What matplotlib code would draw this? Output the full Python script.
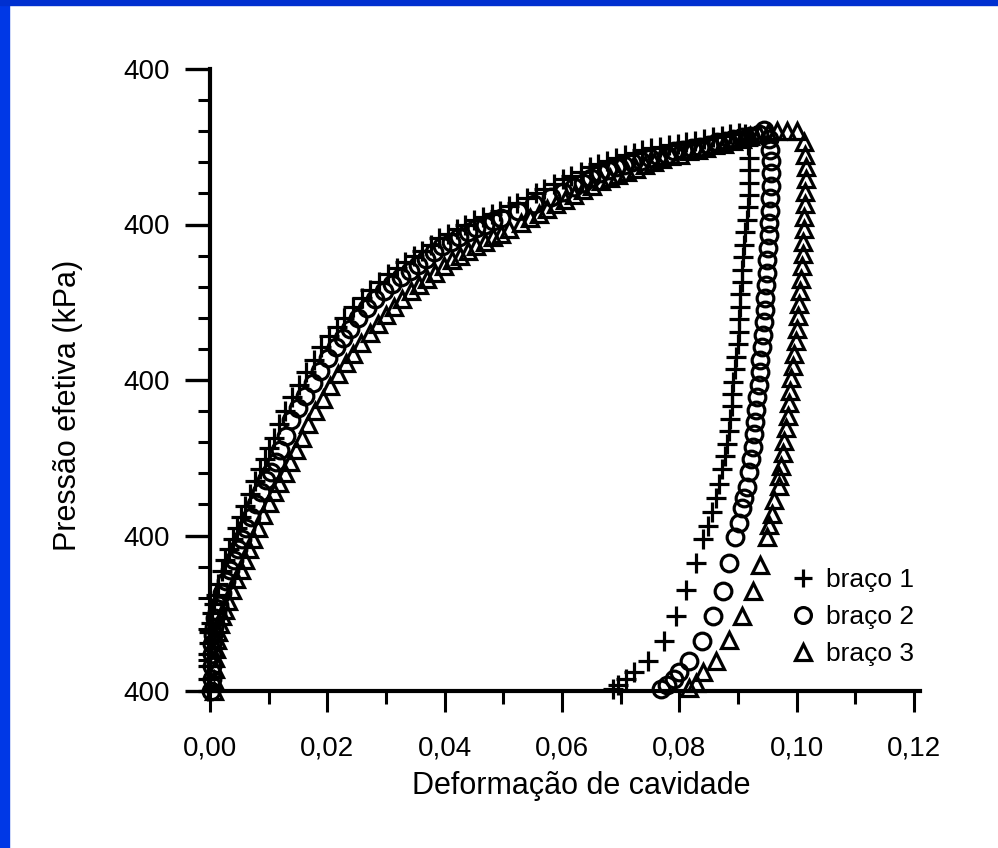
import matplotlib
matplotlib.use("Agg")
import matplotlib.pyplot as plt
from matplotlib.patches import Rectangle
from matplotlib.ticker import MultipleLocator, FixedLocator, FixedFormatter

plt.rcParams['font.family'] = ['Liberation Sans', 'DejaVu Sans']

# braço 1 (+): loading then unloading
b1_x = [-0.0004, -0.0004, -0.0003, -0.0003, -0.0002, -0.0001, 0.0001, 0.0003, 0.0006, 0.0010,
        0.0014, 0.0020, 0.0026, 0.0032, 0.0039, 0.0046, 0.0053, 0.0060, 0.0068, 0.0076,
        0.0085, 0.0093, 0.0101, 0.0109, 0.0118, 0.0127, 0.0139, 0.0151, 0.0164, 0.0177,
        0.0190, 0.0203, 0.0216, 0.0229, 0.0244, 0.0259, 0.0273, 0.0288, 0.0303, 0.0318,
        0.0333, 0.0348, 0.0362, 0.0376, 0.0391, 0.0406, 0.0421, 0.0435, 0.0450, 0.0465,
        0.0480, 0.0495, 0.0510, 0.0524, 0.0540, 0.0555, 0.0570, 0.0586, 0.0601, 0.0616,
        0.0632, 0.0647, 0.0662, 0.0677, 0.0692, 0.0707, 0.0722, 0.0737, 0.0752, 0.0767,
        0.0782, 0.0797, 0.0812, 0.0827, 0.0842, 0.0857, 0.0872, 0.0887, 0.0902, 0.0912,
        0.0917, 0.0918, 0.0918, 0.0918, 0.0918, 0.0917, 0.0915, 0.0912, 0.0910, 0.0909,
        0.0907, 0.0906, 0.0904, 0.0903, 0.0902, 0.0901, 0.0899, 0.0897, 0.0894, 0.0892,
        0.0890, 0.0889, 0.0886, 0.0884, 0.0881, 0.0877, 0.0873, 0.0868, 0.0862, 0.0856,
        0.0849, 0.0840, 0.0829, 0.0812, 0.0795, 0.0773, 0.0747, 0.0723, 0.0709, 0.0696,
        0.0687]
b1_y = [0, 8, 16, 24, 31, 38, 44, 50, 56, 62,
        69, 77, 84, 91, 98, 105, 112, 119, 127, 135,
        143, 149, 156, 163, 172, 180, 189, 197, 205, 213,
        221, 228, 234, 240, 247, 253, 258, 263, 268, 272,
        276, 280, 283, 287, 291, 294, 297, 300, 303, 305,
        307, 309, 312, 314, 317, 320, 323, 326, 329, 331,
        334, 337, 339, 341, 343, 345, 346, 348, 349, 350,
        351, 352, 353, 354, 355, 356, 357, 358, 359, 358,
        351, 343, 335, 327, 319, 311, 303, 295, 287, 279,
        271, 263, 255, 247, 239, 231, 223, 215, 207, 199,
        191, 183, 175, 167, 159, 151, 143, 133, 124, 115,
        106, 98, 82, 65, 48, 32, 19, 12, 8, 4,
        1]

# braço 2 (o)
b2_x = [0.0002, 0.0003, 0.0003, 0.0004, 0.0004, 0.0005, 0.0007, 0.0009, 0.0012, 0.0015,
        0.0020, 0.0027, 0.0034, 0.0041, 0.0048, 0.0055, 0.0062, 0.0070, 0.0078, 0.0087,
        0.0096, 0.0104, 0.0112, 0.0120, 0.0129, 0.0138, 0.0150, 0.0162, 0.0175, 0.0188,
        0.0201, 0.0214, 0.0226, 0.0239, 0.0253, 0.0268, 0.0282, 0.0296, 0.0310, 0.0325,
        0.0340, 0.0354, 0.0368, 0.0381, 0.0395, 0.0410, 0.0425, 0.0439, 0.0453, 0.0468,
        0.0482, 0.0496, 0.0525, 0.0552, 0.0581, 0.0601, 0.0621, 0.0636, 0.0650, 0.0665,
        0.0679, 0.0692, 0.0706, 0.0720, 0.0735, 0.0750, 0.0764, 0.0778, 0.0791, 0.0806,
        0.0821, 0.0835, 0.0850, 0.0864, 0.0877, 0.0892, 0.0906, 0.0920, 0.0935, 0.0944,
        0.0952, 0.0955, 0.0956, 0.0956, 0.0956, 0.0955, 0.0954, 0.0953, 0.0952, 0.0951,
        0.0950, 0.0949, 0.0948, 0.0946, 0.0945, 0.0944, 0.0942, 0.0940, 0.0938, 0.0937,
        0.0935, 0.0933, 0.0931, 0.0929, 0.0927, 0.0925, 0.0922, 0.0919, 0.0915, 0.0910,
        0.0906, 0.0901, 0.0894, 0.0885, 0.0875, 0.0858, 0.0838, 0.0817, 0.0800, 0.0790,
        0.0778, 0.0769]
b2_y = [0, 8, 16, 24, 30, 36, 41, 47, 51, 55,
        63, 71, 78, 84, 91, 98, 105, 112, 120, 128,
        136, 141, 147, 155, 164, 174, 182, 190, 198, 206,
        214, 221, 227, 233, 240, 246, 252, 257, 262, 266,
        270, 274, 278, 282, 286, 289, 292, 295, 298, 300,
        302, 304, 309, 313, 318, 321, 324, 327, 330, 333,
        335, 337, 338, 340, 341, 343, 344, 345, 347, 348,
        349, 350, 351, 353, 354, 355, 356, 357, 358, 361,
        355, 348, 341, 333, 325, 317, 309, 301, 293, 285,
        277, 269, 261, 253, 245, 237, 229, 221, 213, 205,
        197, 189, 181, 173, 165, 157, 149, 141, 131, 124,
        118, 108, 99, 82, 64, 48, 32, 19, 12, 8,
        4, 1]

# braço 3 (triangle)
b3_x = [0.0006, 0.0007, 0.0008, 0.0009, 0.0010, 0.0012, 0.0014, 0.0017, 0.0021, 0.0025,
        0.0031, 0.0038, 0.0045, 0.0052, 0.0059, 0.0066, 0.0074, 0.0082, 0.0091, 0.0100,
        0.0109, 0.0118, 0.0127, 0.0136, 0.0146, 0.0156, 0.0167, 0.0179, 0.0192, 0.0205,
        0.0218, 0.0231, 0.0244, 0.0258, 0.0272, 0.0286, 0.0300, 0.0314, 0.0328, 0.0342,
        0.0356, 0.0370, 0.0384, 0.0398, 0.0412, 0.0426, 0.0440, 0.0454, 0.0468, 0.0482,
        0.0496, 0.0510, 0.0530, 0.0545, 0.0560, 0.0575, 0.0590, 0.0605, 0.0620, 0.0636,
        0.0651, 0.0666, 0.0681, 0.0696, 0.0711, 0.0726, 0.0741, 0.0756, 0.0771, 0.0786,
        0.0801, 0.0816, 0.0831, 0.0846, 0.0861, 0.0876, 0.0891, 0.0906, 0.0921, 0.0936,
        0.0951, 0.0966, 0.0983, 0.1000,
        0.1012, 0.1014, 0.1015, 0.1015, 0.1014, 0.1014, 0.1013, 0.1012, 0.1011, 0.1010,
        0.1009, 0.1007, 0.1005, 0.1003, 0.1002, 0.1000, 0.0998, 0.0995, 0.0993, 0.0991,
        0.0989, 0.0987, 0.0985, 0.0982, 0.0979, 0.0976, 0.0973, 0.0970, 0.0969, 0.0962,
        0.0957, 0.0952, 0.0949, 0.0937, 0.0926, 0.0906, 0.0885, 0.0863, 0.0841, 0.0829,
        0.0817]
b3_y = [0, 7, 14, 21, 27, 33, 38, 43, 48, 52,
        58, 65, 72, 78, 84, 91, 98, 105, 113, 121,
        128, 134, 140, 147, 155, 163, 172, 180, 188, 196,
        204, 211, 217, 224, 230, 236, 242, 247, 252, 257,
        261, 265, 269, 273, 277, 280, 283, 286, 289, 292,
        294, 297, 301, 304, 307, 310, 313, 316, 319, 322,
        325, 328, 330, 332, 334, 336, 338, 340, 342, 344,
        345, 347, 348, 349, 351, 352, 354, 355, 357, 358,
        359, 360, 360, 360,
        353, 345, 337, 329, 321, 313, 305, 297, 289, 281,
        273, 265, 257, 249, 241, 233, 225, 217, 209, 201,
        193, 185, 177, 169, 161, 153, 145, 138, 132, 123,
        114, 107, 99, 81, 64, 48, 33, 19, 12, 5,
        2]

x_ticks = [0.00, 0.02, 0.04, 0.06, 0.08, 0.10, 0.12]
x_tick_labels = ["0,00", "0,02", "0,04", "0,06", "0,08", "0,10", "0,12"]
y_ticks = [0, 100, 200, 300, 400]
y_tick_labels = ["400", "400", "400", "400", "400"]

fig = plt.figure(figsize=(9.98, 8.48), dpi=100)
fig.patch.set_facecolor("white")
# blue slide border
fig.add_artist(Rectangle((0, 0), 9 / 998, 1, transform=fig.transFigure, color="#0038e6", zorder=0))
fig.add_artist(Rectangle((0, 1 - 5 / 848), 1, 5 / 848, transform=fig.transFigure, color="#0030d0", zorder=0))

ax = fig.add_axes([210 / 998, 1 - 691 / 848, 710 / 998, 622 / 848])

mk = dict(linestyle="none", color="black", mew=2.3, clip_on=False)
ax.plot(b1_x, b1_y, marker="+", ms=14, label="braço 1", **mk)
ax.plot(b2_x, b2_y, marker="o", ms=12, mfc="none", label="braço 2", **mk)
ax.plot(b3_x, b3_y, marker="^", ms=12, mfc="none", label="braço 3", **mk)

ax.set_xlim(0, 0.121)
ax.set_ylim(0, 400)
ax.spines["top"].set_visible(False)
ax.spines["right"].set_visible(False)
for s in ("left", "bottom"):
    ax.spines[s].set_linewidth(3.0)

ax.xaxis.set_major_locator(FixedLocator(x_ticks))
ax.xaxis.set_major_formatter(FixedFormatter(x_tick_labels))
ax.xaxis.set_minor_locator(MultipleLocator(0.01))
ax.yaxis.set_major_locator(FixedLocator(y_ticks))
ax.yaxis.set_major_formatter(FixedFormatter(y_tick_labels))
ax.yaxis.set_minor_locator(MultipleLocator(20))

ax.tick_params(axis="y", which="major", direction="out", length=18, width=2.4, pad=11, labelsize=20)
ax.tick_params(axis="y", which="minor", direction="out", length=9, width=2.2)
ax.tick_params(axis="x", which="major", direction="out", length=15, width=2.2, pad=17, labelsize=20)
ax.tick_params(axis="x", which="minor", direction="out", length=9, width=2.2)

fig.text(68 / 998, 1 - 405 / 848, "Pressão efetiva (kPa)", rotation=90,
         ha="center", va="center", fontsize=22)
fig.text(581 / 998, 1 - 786 / 848, "Deformação de cavidade",
         ha="center", va="center", fontsize=22)

ax.legend(loc="center left", bbox_to_anchor=((790 - 210) / 710, (691 - 617) / 622),
          frameon=False, fontsize=19, handlelength=1.0, handletextpad=0.35,
          borderpad=0, borderaxespad=0, labelspacing=0.5, markerscale=0.95)

fig.savefig("out.png", dpi=100, facecolor="white")
